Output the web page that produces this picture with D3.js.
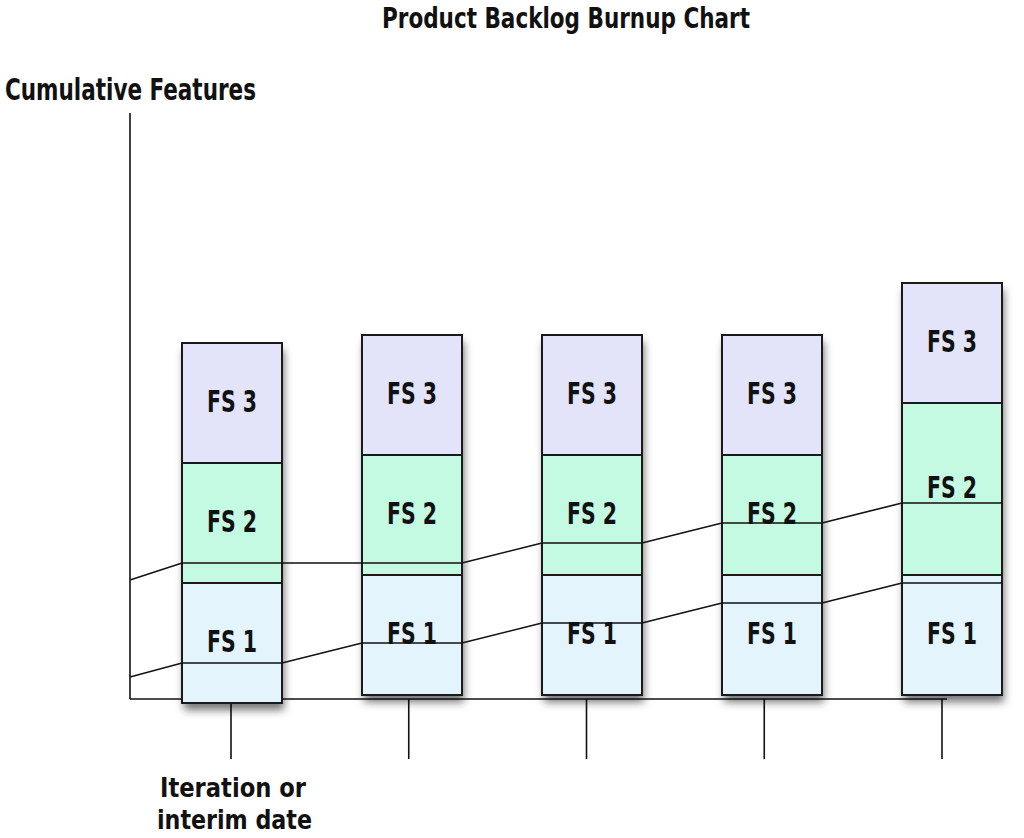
<!DOCTYPE html>
<html>
<head>
<meta charset="utf-8">
<script src="https://cdn.jsdelivr.net/npm/d3@7"></script>
<style>
  html, body { margin: 0; padding: 0; background: #fff; }
  svg { display: block; }
  .hand { font-family: "Liberation Sans Narrow", "DejaVu Sans Condensed", "Roboto", sans-serif; font-weight: bold; fill: #111; }
</style>
</head>
<body>
<svg id="chart"></svg>
<script>
// iterations (x) and feature sets per bar
const iterations = ['It 1', 'It 2', 'It 3', 'It 4', 'It 5'];
const featureSets = ['FS 1', 'FS 2', 'FS 3'];

// bar base and segment sizes (cumulative feature units)
const barBase = [-1, 1, 1, 1, 1];
const fs1Size = [30, 30, 30, 30, 30];
const fs2Size = [30, 30, 30, 30, 43];
const fs3Size = [30, 30, 30, 30, 30];

// two completion lines: value at the y axis, then value at each iteration
const upperStart = 29.75;
const upperLine = [34, 34, 39, 44, 49];
const lowerStart = 5.5;
const lowerLine = [9, 14, 19, 24, 29];

const segColors = { 'FS 1': '#e3f4fd', 'FS 2': '#c4fae2', 'FS 3': '#e3e4fa' };

const W = 1024, H = 838;
const svg = d3.select('#chart').attr('width', W).attr('height', H);

const defs = svg.append('defs');
const shadow = defs.append('filter').attr('id', 'shadow')
  .attr('x', '-30%').attr('y', '-10%').attr('width', '160%').attr('height', '130%');
shadow.append('feDropShadow')
  .attr('dx', 2).attr('dy', 7).attr('stdDeviation', 4)
  .attr('flood-color', '#000').attr('flood-opacity', 0.55);

// scales
const originX = 130, axisEndX = 947;
const y = d3.scaleLinear().domain([0, 146.5]).range([699, 113]);
const x = d3.scaleBand().domain(iterations)
  .range([142, 1042]).paddingInner(0.4444).paddingOuter(0.2222);
const tickX = d3.scalePoint().domain(iterations).range([231, 942]);

// data table
const table = iterations.map((it, i) => {
  const b0 = barBase[i];
  const b1 = b0 + fs1Size[i];
  const b2 = b1 + fs2Size[i];
  const b3 = b2 + fs3Size[i];
  return {
    it,
    segs: [
      { name: featureSets[0], lo: b0, hi: b1 },
      { name: featureSets[1], lo: b1, hi: b2 },
      { name: featureSets[2], lo: b2, hi: b3 }
    ]
  };
});

// ticks below bars
svg.append('g').selectAll('line')
  .data(iterations)
  .enter().append('line')
  .attr('x1', d => tickX(d)).attr('x2', d => tickX(d))
  .attr('y1', y(0)).attr('y2', y(0) + 60)
  .attr('stroke', '#111').attr('stroke-width', 1.6);

// axes
svg.append('line')
  .attr('x1', originX).attr('x2', originX)
  .attr('y1', y(0)).attr('y2', y(146.5))
  .attr('stroke', '#111').attr('stroke-width', 1.6);
svg.append('line')
  .attr('x1', originX).attr('x2', axisEndX)
  .attr('y1', y(0)).attr('y2', y(0))
  .attr('stroke', '#111').attr('stroke-width', 1.6);

// bars
const bars = svg.append('g').selectAll('g.bar')
  .data(table)
  .enter().append('g')
  .attr('class', 'bar');

bars.append('rect')
  .attr('x', d => x(d.it))
  .attr('y', d => y(d.segs[2].hi))
  .attr('width', x.bandwidth())
  .attr('height', d => y(d.segs[0].lo) - y(d.segs[2].hi))
  .attr('fill', '#fff')
  .attr('filter', 'url(#shadow)');

bars.selectAll('rect.seg')
  .data(d => d.segs.map(s => ({ ...s, it: d.it })))
  .enter().append('rect')
  .attr('class', 'seg')
  .attr('x', d => x(d.it))
  .attr('y', d => y(d.hi))
  .attr('width', x.bandwidth())
  .attr('height', d => y(d.lo) - y(d.hi))
  .attr('fill', d => segColors[d.name])
  .attr('stroke', '#1a1a1a')
  .attr('stroke-width', 2);

bars.selectAll('text')
  .data(d => d.segs.map(s => ({ ...s, it: d.it })))
  .enter().append('text')
  .attr('class', 'hand')
  .attr('x', d => x(d.it) + x.bandwidth() / 2 - 25)
  .attr('y', d => (y(d.lo) + y(d.hi)) / 2 + 9)
  .attr('textLength', 50).attr('lengthAdjust', 'spacingAndGlyphs')
  .style('font-size', '31px')
  .text(d => d.name);

// completion lines: slope between bars, flat across each bar
function linePoints(start, vals) {
  const pts = [[originX, y(start)]];
  iterations.forEach((it, i) => {
    pts.push([x(it), y(vals[i])]);
    pts.push([x(it) + x.bandwidth(), y(vals[i])]);
  });
  return pts;
}
const lineGen = d3.line();
[[upperStart, upperLine], [lowerStart, lowerLine]].forEach(([s, v]) => {
  svg.append('path')
    .attr('d', lineGen(linePoints(s, v)))
    .attr('fill', 'none')
    .attr('stroke', '#111')
    .attr('stroke-width', 1.6);
});

// titles
svg.append('text').attr('class', 'hand')
  .attr('x', 382).attr('y', 28)
  .attr('textLength', 368).attr('lengthAdjust', 'spacingAndGlyphs')
  .style('font-size', '29px')
  .text('Product Backlog Burnup Chart');

svg.append('text').attr('class', 'hand')
  .attr('x', 5).attr('y', 100)
  .attr('textLength', 251).attr('lengthAdjust', 'spacingAndGlyphs')
  .style('font-size', '30px')
  .text('Cumulative Features');

svg.append('text').attr('class', 'hand')
  .attr('x', 160).attr('y', 797)
  .attr('textLength', 146).attr('lengthAdjust', 'spacingAndGlyphs')
  .style('font-size', '27px')
  .text('Iteration or');
svg.append('text').attr('class', 'hand')
  .attr('x', 157).attr('y', 829)
  .attr('textLength', 155).attr('lengthAdjust', 'spacingAndGlyphs')
  .style('font-size', '27px')
  .text('interim date');
</script>
</body>
</html>
